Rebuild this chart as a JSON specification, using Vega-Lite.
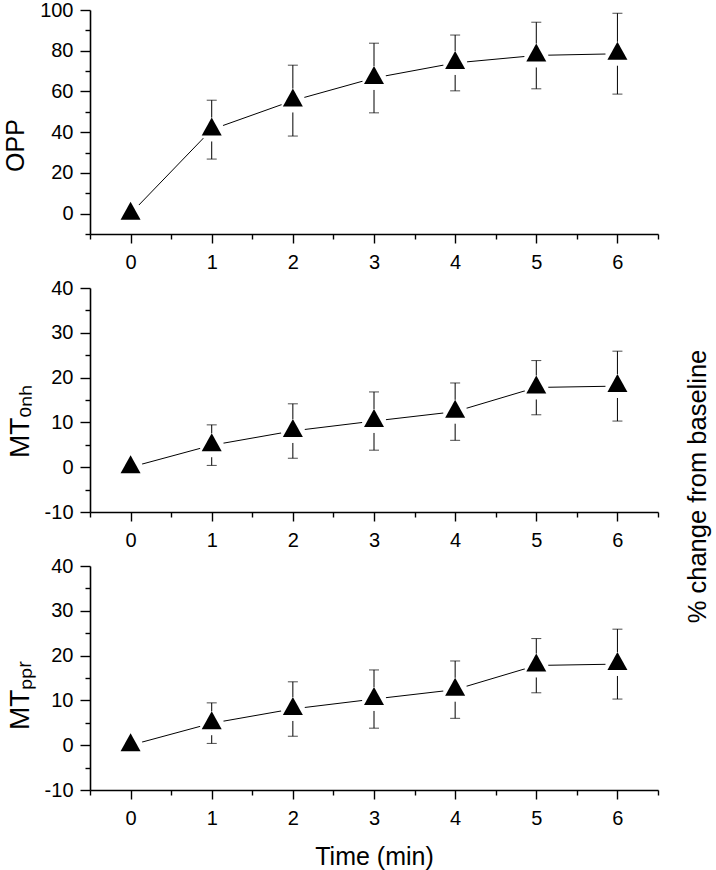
{
  "$schema": "https://vega.github.io/schema/vega-lite/v6.json",
  "padding": {"left": 3, "top": 0, "right": 2, "bottom": 2},
  "bounds": "flush",
  "spacing": 54,
  "config": {
    "view": {"stroke": null},
    "axis": {"domainColor": "#000", "domainWidth": 1.6, "tickColor": "#000", "tickWidth": 1.4, "labelColor": "#000", "labelFont": "Liberation Sans", "labelFontSize": 20, "titleFont": "Liberation Sans", "titleFontSize": 25, "titleFontWeight": "normal", "titleColor": "#000", "grid": false, "labelOverlap": false, "labelFlush": false}
  },
  "datasets": {
    "opp": [
      {"t": 0, "mean": 0, "lo": 0, "hi": 0},
      {"t": 1, "mean": 41.3, "lo": 26.8, "hi": 55.7},
      {"t": 2, "mean": 55.5, "lo": 38.1, "hi": 72.9},
      {"t": 3, "mean": 66.6, "lo": 49.5, "hi": 83.7},
      {"t": 4, "mean": 74.0, "lo": 60.3, "hi": 87.7},
      {"t": 5, "mean": 77.7, "lo": 61.3, "hi": 94.0},
      {"t": 6, "mean": 78.5, "lo": 58.7, "hi": 98.4}
    ],
    "mt": [
      {"t": 0, "mean": 0, "lo": 0, "hi": 0},
      {"t": 1, "mean": 4.9, "lo": 0.4, "hi": 9.45},
      {"t": 2, "mean": 8.1, "lo": 2.0, "hi": 14.15},
      {"t": 3, "mean": 10.3, "lo": 3.8, "hi": 16.8},
      {"t": 4, "mean": 12.4, "lo": 6.0, "hi": 18.8},
      {"t": 5, "mean": 17.8, "lo": 11.7, "hi": 23.8},
      {"t": 6, "mean": 18.1, "lo": 10.3, "hi": 25.9}
    ]
  },
  "vconcat": [
    {
      "width": 568, "height": 224,
      "data": {"name": "opp"},
      "encoding": {
        "x": {"field": "t", "type": "quantitative", "scale": {"domain": [-0.5, 6.5], "nice": false, "zero": false},
          "axis": {"title": null, "values": [-0.5, 0, 0.5, 1, 1.5, 2, 2.5, 3, 3.5, 4, 4.5, 5, 5.5, 6, 6.5], "labelExpr": "datum.value % 1 === 0 ? '' + datum.value : ''", "tickSize": {"condition": {"test": "datum.value % 1 === 0", "value": 9}, "value": 5}, "labelPadding": 9}}
      },
      "resolve": {"axis": {"y": "independent"}},
      "layer": [
        {"mark": {"type": "rule", "color": "#000", "strokeWidth": 1},
          "encoding": {"y": {"field": "lo", "type": "quantitative", "scale": {"domain": [-10, 100], "nice": false, "zero": false},
            "axis": {"title": "OPP", "values": [-10, 0, 10, 20, 30, 40, 50, 60, 70, 80, 90, 100], "labelExpr": "datum.value % 20 === 0 ? '' + datum.value : ''", "tickSize": {"condition": {"test": "datum.value % 20 === 0", "value": 10}, "value": 5}, "labelPadding": 7, "titlePadding": 11, "titleY": 135}},
            "y2": {"field": "hi"}}},
        {"mark": {"type": "tick", "orient": "horizontal", "size": 10, "thickness": 1, "color": "#000"},
          "encoding": {"y": {"field": "lo", "type": "quantitative", "axis": null}}},
        {"mark": {"type": "tick", "orient": "horizontal", "size": 10, "thickness": 1, "color": "#000"},
          "encoding": {"y": {"field": "hi", "type": "quantitative", "axis": null}}},
        {"mark": {"type": "line", "color": "#000", "strokeWidth": 1},
          "encoding": {"y": {"field": "mean", "type": "quantitative", "axis": null}}},
        {"mark": {"type": "point", "shape": "circle", "filled": true, "color": "#fff", "opacity": 1, "size": 576},
          "encoding": {"y": {"field": "mean", "type": "quantitative", "axis": null}}},
        {"mark": {"type": "point", "shape": "M0,-1.2L1,0.6L-1,0.6Z", "filled": true, "color": "#000", "opacity": 1, "size": 400},
          "encoding": {"y": {"field": "mean", "type": "quantitative", "axis": null}}}
      ]
    },
    {
      "width": 568, "height": 224,
      "data": {"name": "mt"},
      "encoding": {
        "x": {"field": "t", "type": "quantitative", "scale": {"domain": [-0.5, 6.5], "nice": false, "zero": false},
          "axis": {"title": null, "values": [-0.5, 0, 0.5, 1, 1.5, 2, 2.5, 3, 3.5, 4, 4.5, 5, 5.5, 6, 6.5], "labelExpr": "datum.value % 1 === 0 ? '' + datum.value : ''", "tickSize": {"condition": {"test": "datum.value % 1 === 0", "value": 9}, "value": 5}, "labelPadding": 9}}
      },
      "resolve": {"axis": {"y": "independent"}},
      "layer": [
        {"mark": {"type": "rule", "color": "#000", "strokeWidth": 1},
          "encoding": {"y": {"field": "lo", "type": "quantitative", "scale": {"domain": [-10, 40], "nice": false, "zero": false},
            "axis": {"title": "MTₒₙₕ", "values": [-10, -5, 0, 5, 10, 15, 20, 25, 30, 35, 40], "labelExpr": "datum.value % 10 === 0 ? '' + datum.value : ''", "tickSize": {"condition": {"test": "datum.value % 10 === 0", "value": 10}, "value": 5}, "labelPadding": 7, "titlePadding": 10, "titleY": 133, "titleFontSize": 28}},
            "y2": {"field": "hi"}}},
        {"mark": {"type": "tick", "orient": "horizontal", "size": 10, "thickness": 1, "color": "#000"},
          "encoding": {"y": {"field": "lo", "type": "quantitative", "axis": null}}},
        {"mark": {"type": "tick", "orient": "horizontal", "size": 10, "thickness": 1, "color": "#000"},
          "encoding": {"y": {"field": "hi", "type": "quantitative", "axis": null}}},
        {"mark": {"type": "line", "color": "#000", "strokeWidth": 1},
          "encoding": {"y": {"field": "mean", "type": "quantitative", "axis": null}}},
        {"mark": {"type": "point", "shape": "circle", "filled": true, "color": "#fff", "opacity": 1, "size": 576},
          "encoding": {"y": {"field": "mean", "type": "quantitative",
            "axis": {"orient": "right", "title": "% change from baseline", "ticks": false, "labels": false, "domain": false, "titleAngle": 270, "titleBaseline": "top", "titlePadding": 27, "titleY": 198, "titleFontSize": 25.5}}}},
        {"mark": {"type": "point", "shape": "M0,-1.2L1,0.6L-1,0.6Z", "filled": true, "color": "#000", "opacity": 1, "size": 400},
          "encoding": {"y": {"field": "mean", "type": "quantitative", "axis": null}}}
      ]
    },
    {
      "width": 568, "height": 224,
      "data": {"name": "mt"},
      "encoding": {
        "x": {"field": "t", "type": "quantitative", "scale": {"domain": [-0.5, 6.5], "nice": false, "zero": false},
          "axis": {"title": "Time (min)", "values": [-0.5, 0, 0.5, 1, 1.5, 2, 2.5, 3, 3.5, 4, 4.5, 5, 5.5, 6, 6.5], "labelExpr": "datum.value % 1 === 0 ? '' + datum.value : ''", "tickSize": {"condition": {"test": "datum.value % 1 === 0", "value": 9}, "value": 5}, "labelPadding": 9, "titlePadding": 16}}
      },
      "resolve": {"axis": {"y": "independent"}},
      "layer": [
        {"mark": {"type": "rule", "color": "#000", "strokeWidth": 1},
          "encoding": {"y": {"field": "lo", "type": "quantitative", "scale": {"domain": [-10, 40], "nice": false, "zero": false},
            "axis": {"title": "MTₚₚᵣ", "values": [-10, -5, 0, 5, 10, 15, 20, 25, 30, 35, 40], "labelExpr": "datum.value % 10 === 0 ? '' + datum.value : ''", "tickSize": {"condition": {"test": "datum.value % 10 === 0", "value": 10}, "value": 5}, "labelPadding": 7, "titlePadding": 10, "titleY": 129, "titleFontSize": 28}},
            "y2": {"field": "hi"}}},
        {"mark": {"type": "tick", "orient": "horizontal", "size": 10, "thickness": 1, "color": "#000"},
          "encoding": {"y": {"field": "lo", "type": "quantitative", "axis": null}}},
        {"mark": {"type": "tick", "orient": "horizontal", "size": 10, "thickness": 1, "color": "#000"},
          "encoding": {"y": {"field": "hi", "type": "quantitative", "axis": null}}},
        {"mark": {"type": "line", "color": "#000", "strokeWidth": 1},
          "encoding": {"y": {"field": "mean", "type": "quantitative", "axis": null}}},
        {"mark": {"type": "point", "shape": "circle", "filled": true, "color": "#fff", "opacity": 1, "size": 576},
          "encoding": {"y": {"field": "mean", "type": "quantitative", "axis": null}}},
        {"mark": {"type": "point", "shape": "M0,-1.2L1,0.6L-1,0.6Z", "filled": true, "color": "#000", "opacity": 1, "size": 400},
          "encoding": {"y": {"field": "mean", "type": "quantitative", "axis": null}}}
      ]
    }
  ]
}
